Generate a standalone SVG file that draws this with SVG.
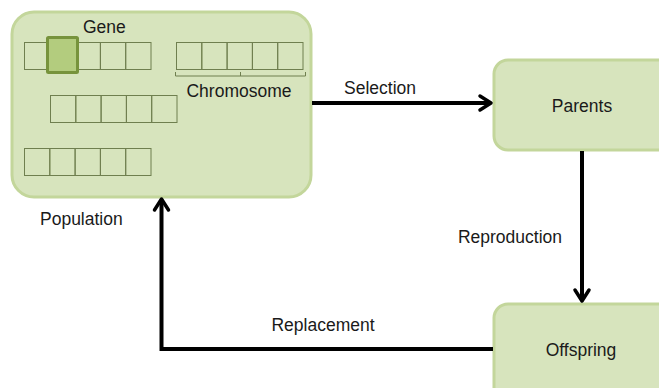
<svg xmlns="http://www.w3.org/2000/svg" width="659" height="388" viewBox="0 0 659 388">
<defs>
<style>
.box{fill:#d7e4bd;stroke:#c3d69b;stroke-width:3}
.cell{fill:none;stroke:#6f7f4f;stroke-width:1}
.gene{fill:#b3cc7e;stroke:#77933c;stroke-width:3}
.lbl{font-family:"Liberation Sans",Arial,sans-serif;font-size:17.5px;fill:#1a1a1a}
.mid{text-anchor:middle}
.conn{fill:none;stroke:#000;stroke-width:4;stroke-linejoin:miter}
.head{fill:none;stroke:#000;stroke-width:3.5;stroke-linecap:round;stroke-linejoin:round}
</style>
<g id="row">
<rect class="cell" x="0" y="0" width="25.3" height="27"/>
<rect class="cell" x="25.3" y="0" width="25.3" height="27"/>
<rect class="cell" x="50.6" y="0" width="25.3" height="27"/>
<rect class="cell" x="75.9" y="0" width="25.3" height="27"/>
<rect class="cell" x="101.2" y="0" width="25.3" height="27"/>
</g>
</defs>
<rect width="659" height="388" fill="#fff"/>
<g id="population">
<rect class="box" x="12" y="12" width="299" height="185" rx="22"/>
<use href="#row" x="24.5" y="42.5"/>
<use href="#row" x="176.5" y="42.5"/>
<use href="#row" x="50.5" y="95.5"/>
<use href="#row" x="24.5" y="148.5"/>
<rect class="gene" x="47.5" y="37.5" width="30" height="35" rx="1"/>
<path d="M175.5 72 v4 h130 v-4 M240.5 76 v-4" fill="none" stroke="#6f7f4f" stroke-width="1"/>
<text class="lbl" x="83" y="33">Gene</text>
<text class="lbl mid" x="239" y="97">Chromosome</text>
<text class="lbl" x="40" y="225">Population</text>
</g>
<g id="parents">
<rect class="box" x="494" y="60" width="190" height="90" rx="14"/>
<text class="lbl mid" x="582" y="112">Parents</text>
</g>
<g id="offspring">
<rect class="box" x="494" y="304" width="190" height="110" rx="14"/>
<text class="lbl mid" x="581" y="356">Offspring</text>
</g>
<g id="connectors">
<path class="conn" d="M312 103 H490"/>
<path class="head" d="M480 96 L491 103 L480 110"/>
<path class="conn" d="M582 151 V300"/>
<path class="head" d="M575 290 L582 301 L589 290"/>
<path class="conn" d="M493 349 H161.5 V201"/>
<path class="head" d="M154.5 210 L161.5 199 L168.5 210"/>
<text class="lbl mid" x="380" y="94">Selection</text>
<text class="lbl mid" x="510" y="243">Reproduction</text>
<text class="lbl mid" x="323" y="331">Replacement</text>
</g>
</svg>
